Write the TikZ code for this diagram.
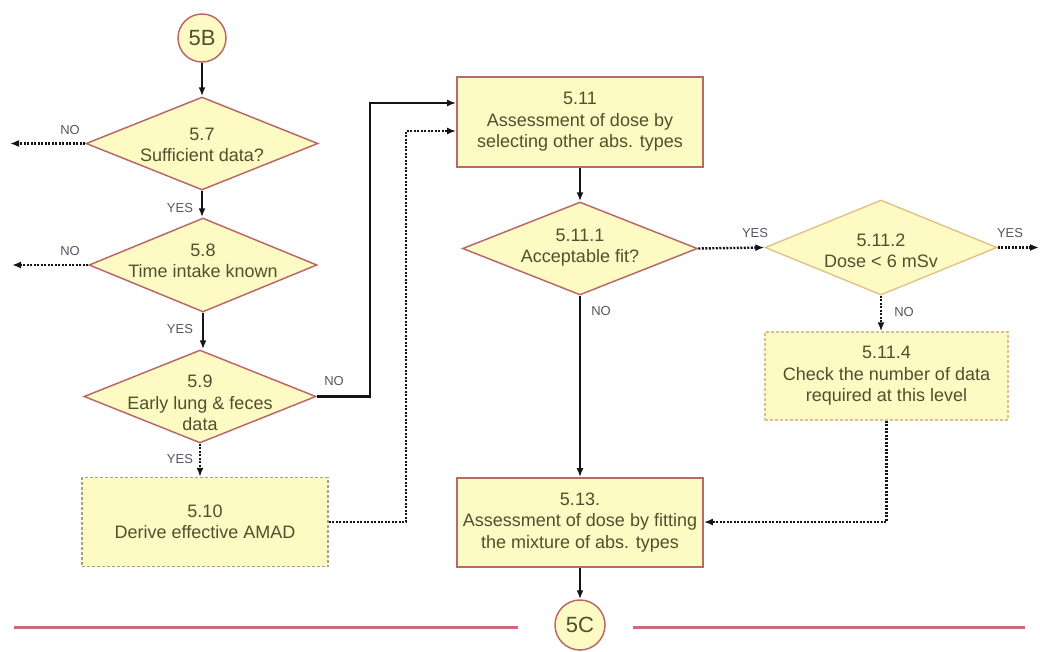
\documentclass[tikz,border=0pt]{standalone}
\usepackage{fontspec}
\setmainfont{Liberation Sans}
\usetikzlibrary{shapes.geometric,arrows.meta}
\definecolor{fillY}{RGB}{253,250,196}
\definecolor{edgeR}{RGB}{185,105,105}
\definecolor{edgeT}{RGB}{225,190,130}
\definecolor{edgeG}{RGB}{170,160,130}
\definecolor{txt}{RGB}{80,80,45}
\definecolor{lbl}{RGB}{85,85,95}
\definecolor{rulec}{RGB}{205,105,125}
\definecolor{conn}{RGB}{20,20,20}
\begin{document}
\begin{tikzpicture}[x=1pt,y=-1pt,
  txtfont/.style={text=txt,font=\fontsize{18}{21.5}\selectfont,align=center},
  procbox/.style={draw=edgeR,line width=1.8pt,fill=fillY,minimum width=246pt,minimum height=89pt,inner sep=0pt,txtfont},
  dashbox/.style={procbox,draw=edgeG,line width=1.3pt,dash pattern=on 3pt off 2pt},
  decis/.style={shape=diamond,draw=edgeR,line width=1.5pt,fill=fillY,minimum width=232pt,minimum height=93pt,inner sep=0pt},
  decislight/.style={decis,draw=edgeT,line width=1.3pt},
  dtext/.style={txtfont,inner sep=0pt},
  conncircle/.style={circle,draw=edgeR,line width=1.5pt,fill=fillY,minimum size=48pt,inner sep=0pt,text=txt,font=\fontsize{22}{24}\selectfont},
  solidarrow/.style={draw=conn,line width=2.4pt,-{Latex[length=9pt,width=7pt]}},
  dotarrow/.style={draw=conn,line width=2.4pt,dash pattern=on 2pt off 1.5pt,-{Latex[length=9pt,width=7pt]}},
  lab/.style={text=lbl,font=\fontsize{13}{14}\selectfont,inner sep=0pt},
  rulestyle/.style={draw=rulec,line width=3pt}
]
\useasboundingbox (0,0) rectangle (1040,651);

% connectors circles
\node[conncircle] (c5B) at (202,38) {5B};
\node[conncircle,minimum size=50pt] (c5C) at (580,625) {5C};

% decisions
\node[decis] (d57) at (202,143.5) {};
\node[dtext] (d57t) at (202,145) {5.7\\Sufficient data?};
\node[decis,minimum width=228pt,minimum height=94pt] (d58) at (203,265) {};
\node[dtext] (d58t) at (203,261) {5.8\\Time intake known};
\node[decis] (d59) at (200,396.5) {};
\node[dtext] (d59t) at (200,403) {5.9\\Early lung \& feces\\data};
\node[decis,minimum width=235pt] (d511) at (580,248.5) {};
\node[dtext] (d511t) at (580,247.5) {5.11.1\\Acceptable fit?};
\node[decislight,minimum height=95pt] (d5112) at (881,247.5) {};
\node[dtext] (d5112t) at (881,251) {5.11.2\\Dose < 6 mSv};

% process boxes
\node[dashbox] (b510) at (205,522) {5.10\\Derive effective AMAD};
\node[procbox,minimum height=90pt] (b511) at (580,122) {5.11\\Assessment of dose by\\selecting other abs. types};
\node[procbox] (b513) at (580,522.5) {5.13.\\Assessment of dose by fitting\\the mixture of abs. types};
\node[dashbox,draw=edgeT,minimum width=243pt,minimum height=88pt] (b5114) at (886.5,376) {5.11.4\\Check the number of data\\required at this level};

% free ends
\coordinate (no57) at (10,143.5);
\coordinate (no58) at (12,265);
\coordinate (yes5112) at (1039,247.5);

% connectors
\draw[solidarrow] (c5B.south) -- (d57.north);
\draw[dotarrow] (d57.west) -- (no57);
\draw[solidarrow] (d57.south) -- (d57.south |- d58.north);
\draw[dotarrow] (d58.west) -- (no58);
\draw[solidarrow] (d58.south) -- (d58.south |- d59.north);
\draw[solidarrow] (d59.east) -- (370,396.5) -- (370,103) -- (b511.west |- 0,103);
\draw[dotarrow] (d59.south) -- (d59.south |- b510.north);
\draw[dotarrow] (b510.east) -- (406,522) -- (406,131) -- (b511.west |- 0,131);
\draw[solidarrow] (b511.south) -- (d511.north);
\draw[solidarrow] (d511.south) -- (b513.north);
\draw[dotarrow] (d511.east) -- (d5112.west);
\draw[dotarrow] (d5112.east) -- (yes5112);
\draw[dotarrow] (d5112.south) -- (d5112.south |- b5114.north);
\draw[dotarrow] (b5114.south) -- (b5114.south |- 0,522) -- (b513.east |- 0,522);
\draw[solidarrow] (b513.south) -- (c5C.north);

% labels
\node[lab] (l1) at (70,130) {NO};
\node[lab] (l2) at (180,208) {YES};
\node[lab] (l3) at (70,251) {NO};
\node[lab] (l4) at (180,329) {YES};
\node[lab] (l5) at (334,381) {NO};
\node[lab] (l6) at (180,459) {YES};
\node[lab] (l7) at (601,311) {NO};
\node[lab] (l8) at (755,233) {YES};
\node[lab] (l9) at (1010,233) {YES};
\node[lab] (l10) at (904,312) {NO};

% bottom rule
\draw[rulestyle] (14,627) -- (518,627);
\draw[rulestyle] (633,627) -- (1025,627);
\end{tikzpicture}
\end{document}
